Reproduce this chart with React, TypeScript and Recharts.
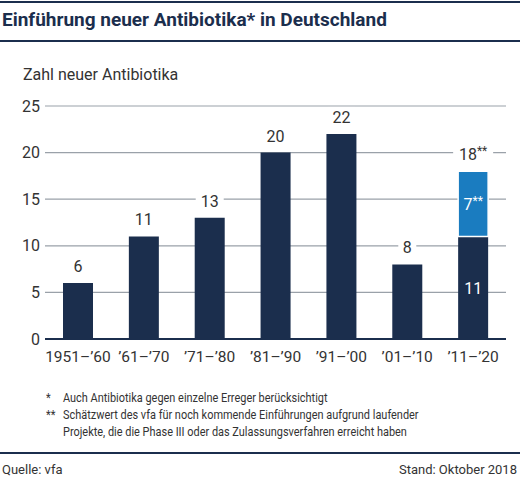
import { BarChart, Bar, XAxis, YAxis, CartesianGrid, LabelList } from "recharts";

const categories = ["1951\u2013\u201960", "\u201961\u2013\u201970", "\u201971\u2013\u201980", "\u201981\u2013\u201990", "\u201991\u2013\u201900", "\u201901\u2013\u201910", "\u201911\u2013\u201920"];
const introduced = [6, 11, 13, 20, 22, 8, 11];
const estimated = [0, 0, 0, 0, 0, 0, 7];
const yTicks = [0, 5, 10, 15, 20, 25];

const data = categories.map((c, i) => ({ period: c, intro: introduced[i], est: estimated[i] }));

const NAVY = "#1b2e4d";
const BLUE = "#1a7cc0";
const TEXT = "#333";
const FONT = "Roboto, sans-serif";

function TopLabel({ cx, y, text, stars }: { cx: number; y: number; text: string; stars: boolean }) {
  const w = stars ? 40 : text.length * 10 + 8;
  return (
    <g>
      <rect x={cx - w / 2} y={y - 27} width={w} height={20} fill="#fff" />
      <text x={cx} y={y - 11} textAnchor="middle" fill={TEXT} fontSize={16} fontFamily={FONT}>
        {text}
        {stars && <tspan fontSize={12} dy={-5}>**</tspan>}
      </text>
    </g>
  );
}

const introLabel = (p: any) => {
  const { x, y, width, height, index } = p;
  const cx = x + width / 2;
  if (estimated[index] > 0) {
    return (
      <text x={cx} y={y + height / 2 + 6} textAnchor="middle" fill="#fff" fontSize={16} fontFamily={FONT}>
        {introduced[index]}
      </text>
    );
  }
  return <TopLabel cx={cx} y={y} text={String(introduced[index])} stars={false} />;
};

const estLabel = (p: any) => {
  const { x, y, width, height, value } = p;
  const v = Array.isArray(value) ? value[1] - value[0] : Number(value);
  if (!(v > 0)) return <g />;
  const i = estimated.indexOf(v);
  const cx = x + width / 2;
  return (
    <g>
      <text x={cx} y={y + height / 2 + 6} textAnchor="middle" fill="#fff" fontSize={16} fontFamily={FONT}>
        {v}
        <tspan fontSize={12} dy={-5}>**</tspan>
      </text>
      <TopLabel cx={cx} y={y} text={String(introduced[i] + v)} stars />
    </g>
  );
};

export default function App() {
  return (
    <div style={{ position: "absolute", left: 0, top: 0, width: 520, height: 484, background: "#fff", fontFamily: FONT, color: TEXT }}>
      <div style={{ position: "absolute", left: 0, top: 1, width: 520, height: 2, background: NAVY }} />
      <div style={{ position: "absolute", left: 2, top: 8, fontSize: 19, fontWeight: 700, color: NAVY, whiteSpace: "nowrap" }}>
        Einführung neuer Antibiotika* in Deutschland
      </div>
      <div style={{ position: "absolute", left: 0, top: 40, width: 520, height: 2, background: NAVY }} />
      <div style={{ position: "absolute", left: 23, top: 65, fontSize: 16 }}>Zahl neuer Antibiotika</div>

      <div style={{ position: "absolute", left: 0, top: 80 }}>
        <BarChart width={520} height={290} data={data} margin={{ top: 26, right: 14, bottom: 1, left: 0 }} barSize={30}>
          <CartesianGrid vertical={false} stroke="#9aa1a9" strokeWidth={1.2} />
          <XAxis
            dataKey="period"
            axisLine={{ stroke: NAVY, strokeWidth: 2 }}
            tickLine={false}
            height={30}
            tickMargin={6}
            tick={{ fill: TEXT, fontSize: 15.5, fontFamily: FONT }}
            interval={0}
          />
          <YAxis
            width={45}
            domain={[0, 25]}
            ticks={yTicks}
            axisLine={false}
            tickLine={false}
            tickSize={0}
            tickMargin={5}
            tick={{ fill: TEXT, fontSize: 16, fontFamily: FONT }}
          />
          <Bar dataKey="intro" stackId="a" fill={NAVY} isAnimationActive={false}>
            <LabelList dataKey="intro" content={introLabel} />
          </Bar>
          <Bar dataKey="est" stackId="a" fill={BLUE} stroke="#fff" strokeWidth={1.5} isAnimationActive={false}>
            <LabelList dataKey="est" content={estLabel} />
          </Bar>
        </BarChart>
      </div>

      <div
        style={{
          position: "absolute",
          left: 46,
          top: 389,
          fontSize: 13.5,
          lineHeight: "17px",
          whiteSpace: "nowrap",
          transform: "scaleX(0.81)",
          transformOrigin: "0 0",
        }}
      >
        <div style={{ display: "flex" }}>
          <span style={{ width: 21 }}>*</span>
          <span>Auch Antibiotika gegen einzelne Erreger berücksichtigt</span>
        </div>
        <div style={{ display: "flex" }}>
          <span style={{ width: 21, flexShrink: 0 }}>**</span>
          <span>
            Schätzwert des vfa für noch kommende Einführungen aufgrund laufender
            <br />
            Projekte, die die Phase III oder das Zulassungsverfahren erreicht haben
          </span>
        </div>
      </div>

      <div style={{ position: "absolute", left: 0, top: 452, width: 520, height: 2, background: NAVY }} />
      <div style={{ position: "absolute", left: 2, top: 462, fontSize: 13 }}>Quelle: vfa</div>
      <div style={{ position: "absolute", right: 3, top: 462, fontSize: 13 }}>Stand: Oktober 2018</div>
    </div>
  );
}
